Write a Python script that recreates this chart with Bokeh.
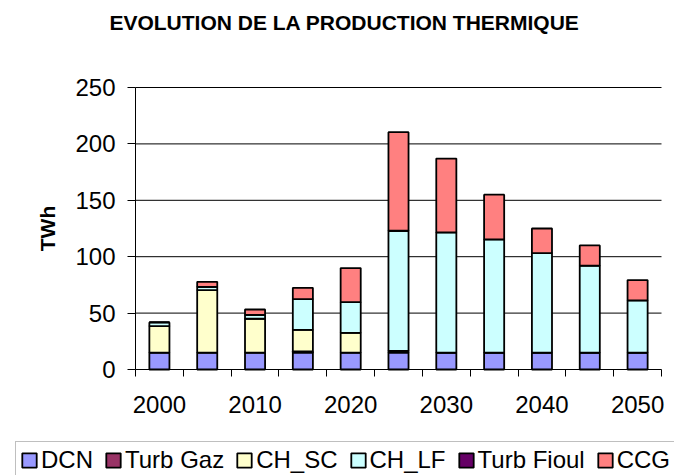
from math import pi
from bokeh.plotting import figure
from bokeh.models import ColumnDataSource, Range1d, FixedTicker, Label
from bokeh.embed import file_html
from bokeh.resources import INLINE

years = [2000, 2005, 2010, 2015, 2020, 2025, 2030, 2035, 2040, 2045, 2050]
series = ["DCN", "Turb Gaz", "CH_SC", "CH_LF", "Turb Fioul", "CCG"]
dcn        = [15, 15, 15, 15, 15, 15, 15, 15, 15, 15, 15]
turb_gaz   = [0, 0, 0, 1, 0, 1.6, 0, 0, 0, 0, 0]
ch_sc      = [23.5, 55.4, 30, 19.2, 17.5, 0, 0, 0, 0, 0, 0]
ch_lf      = [3.2, 2.9, 3.5, 27.2, 27.2, 106.4, 106.5, 100.3, 88.2, 77, 46.2]
turb_fioul = [0, 0, 0, 0, 0, 0, 0, 0, 0, 0, 0]
ccg        = [0, 4.4, 4.7, 10, 30.2, 87.4, 65.5, 39.7, 21.8, 18, 18.1]
colors = ["#9999FF", "#993366", "#FFFFCC", "#CCFFFF", "#660066", "#FF8080"]
y_ticks = [0, 50, 100, 150, 200, 250]
x_label_years = [2000, 2010, 2020, 2030, 2040, 2050]
title_text = "EVOLUTION DE LA PRODUCTION THERMIQUE"
y_label = "TWh"

FONT = "Liberation Sans"
W, H = 674, 475
# plotting area in canvas pixels
PX_L, PX_R, PX_T, PX_B = 135, 661, 87, 369
X0, X1 = 1997.5, 2052.5
Y0, Y1 = 0, 250
sx = (PX_R - PX_L) / (X1 - X0)
sy = (PX_B - PX_T) / (Y1 - Y0)
x_range = Range1d(X0 - PX_L / sx, X1 + (W - PX_R) / sx)
y_range = Range1d(Y0 - (H - PX_B) / sy, Y1 + PX_T / sy)

source = ColumnDataSource(data={
    "year": years,
    "DCN": dcn,
    "Turb Gaz": turb_gaz,
    "CH_SC": ch_sc,
    "CH_LF": ch_lf,
    "Turb Fioul": turb_fioul,
    "CCG": ccg,
})

p = figure(width=W, height=H, output_backend="svg", toolbar_location=None,
           title=None, x_range=x_range, y_range=y_range,
           min_border=0, min_border_left=0, min_border_right=0,
           min_border_top=0, min_border_bottom=0)
p.outline_line_color = None
p.background_fill_color = "white"
p.border_fill_color = "white"
p.xgrid.grid_line_color = None
p.ygrid.grid_line_color = None

# horizontal gridlines limited to the plotting area
grid_y = y_ticks[1:]
p.segment(x0=[X0] * len(grid_y), x1=[X1] * len(grid_y), y0=grid_y, y1=grid_y,
          line_color="black", line_width=1)

p.vbar_stack(series, x="year", width=2.1, color=colors, source=source,
             line_color="black", line_width=1.8, legend_label=series)

# y axis
ya = p.yaxis[0]
ya.fixed_location = X0
ya.bounds = (Y0, Y1)
ya.ticker = FixedTicker(ticks=y_ticks)
ya.minor_tick_line_color = None
ya.major_tick_out = 8
ya.major_tick_in = 0
ya.major_label_standoff = 12
ya.axis_line_color = "black"
ya.major_tick_line_color = "black"

# x axis
xa = p.xaxis[0]
xa.fixed_location = Y0
xa.bounds = (X0, X1)
minor = [X0 + 5 * i for i in range(12)]
xa.ticker = FixedTicker(ticks=x_label_years, minor_ticks=minor)
xa.major_tick_line_color = None
xa.major_tick_out = 0
xa.major_tick_in = 0
xa.minor_tick_out = 7
xa.minor_tick_in = 0
xa.minor_tick_line_color = "black"
xa.major_label_standoff = 19
xa.axis_line_color = "black"

for ax in (xa, ya):
    ax.major_label_text_font = FONT
    ax.major_label_text_font_size = "24px"
    ax.major_label_text_color = "black"

# title and y label (screen px from bottom-left of canvas)
p.add_layout(Label(x=344, y=H - 21.7, x_units="screen", y_units="screen",
                   text=title_text, text_font=FONT, text_font_size="21px",
                   text_font_style="bold", text_color="black",
                   text_align="center", text_baseline="middle"))
p.add_layout(Label(x=47, y=H - 228, x_units="screen", y_units="screen",
                   text=y_label, angle=pi / 2, text_font=FONT,
                   text_font_size="21px", text_font_style="bold",
                   text_color="black", text_align="center",
                   text_baseline="middle"))

# legend
lg = p.legend[0]
lg.orientation = "horizontal"
lg.location = (15, -4)
lg.label_text_font = FONT
lg.label_text_font_size = "24px"
lg.label_text_color = "black"
lg.glyph_width = 18
lg.glyph_height = 18
lg.label_standoff = 3
lg.spacing = 11
lg.padding = 4
lg.margin = 0
lg.border_line_color = "#808080"
lg.border_line_width = 1
lg.background_fill_color = "white"
lg.background_fill_alpha = 1

open("out.html", "w").write(file_html(p, INLINE))
